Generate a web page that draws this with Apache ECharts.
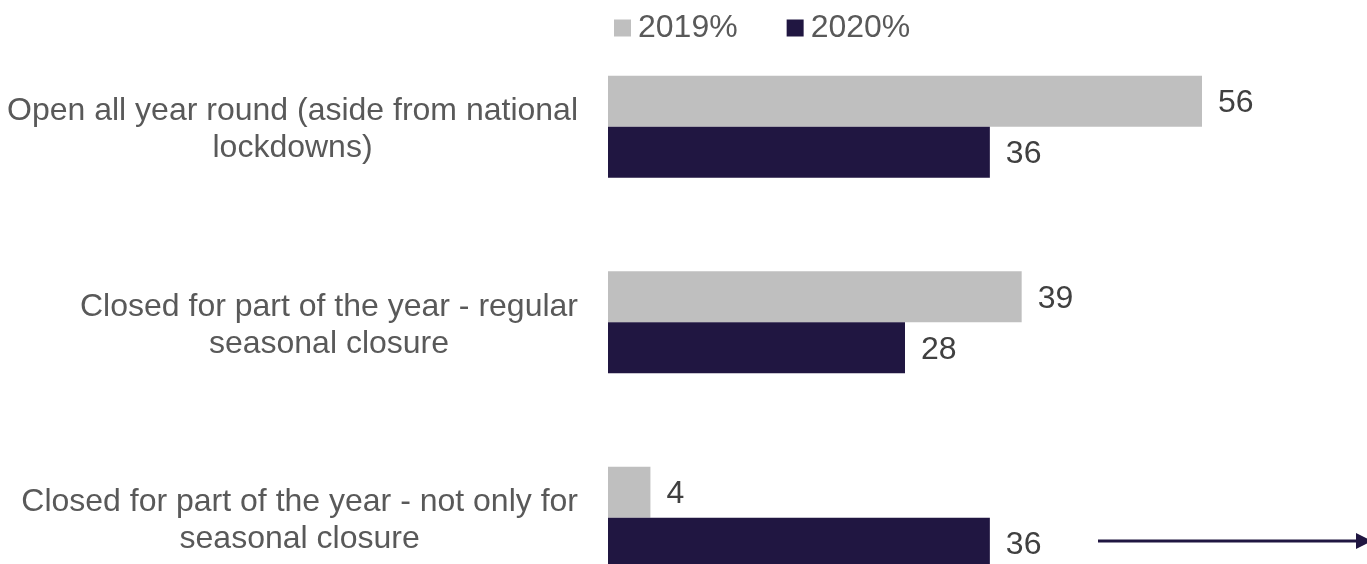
<!DOCTYPE html>
<html>
<head>
<meta charset="utf-8">
<script src="https://cdn.jsdelivr.net/npm/echarts@6/dist/echarts.min.js"></script>
<style>
  html, body { margin: 0; padding: 0; background: #ffffff; overflow: hidden; }
  #chart { width: 1367px; height: 616px; }
</style>
</head>
<body>
<div id="chart"></div>
<script>
const categories = [
  "Open all year round (aside from national\nlockdowns)",
  "Closed for part of the year - regular\nseasonal closure",
  "Closed for part of the year - not only for\nseasonal closure"
];
const seriesNames = ["2019%", "2020%"];
const values2019 = [56, 39, 4];
const values2020 = [36, 28, 36];

const FONT = '"Liberation Sans", Arial, sans-serif';
const chart = echarts.init(document.getElementById('chart'), null, { renderer: 'canvas' });

const labelStyle = {
  show: true,
  position: 'right',
  distance: 16,
  offset: [0, 2],
  fontSize: 32,
  fontFamily: FONT,
  color: '#404040'
};

chart.setOption({
  animation: false,
  backgroundColor: '#ffffff',
  textStyle: { fontFamily: FONT },
  legend: {
    data: seriesNames,
    left: 614,
    top: 12,
    padding: 0,
    icon: 'rect',
    itemWidth: 17,
    itemHeight: 17,
    itemGap: 49,
    textStyle: { fontSize: 32, fontFamily: FONT, color: '#595959', padding: [0, 0, 0, 2] }
  },
  grid: { left: 608, top: 29, width: 742.5, bottom: 0.5, containLabel: false },
  xAxis: {
    type: 'value',
    min: 0,
    max: 70,
    show: false
  },
  yAxis: {
    type: 'category',
    inverse: true,
    data: categories,
    axisLine: { show: false },
    axisTick: { show: false },
    splitLine: { show: false },
    axisLabel: {
      margin: 30,
      align: 'right',
      color: '#595959',
      fontSize: 32,
      fontFamily: FONT,
      lineHeight: 37,
      padding: [6, 0, 0, 0],
      formatter: function (v) {
        return v.split('\n').map(function (l) { return '{c|' + l + '}'; }).join('\n');
      },
      rich: {
        c: { align: 'center', fontSize: 32, lineHeight: 37, color: '#595959', fontFamily: FONT }
      }
    }
  },
  series: [
    {
      name: seriesNames[0],
      type: 'bar',
      data: values2019,
      barWidth: 51,
      barGap: '0%',
      itemStyle: { color: '#BFBFBF' },
      label: labelStyle
    },
    {
      name: seriesNames[1],
      type: 'bar',
      data: values2020,
      barWidth: 51,
      barGap: '0%',
      itemStyle: { color: '#201641' },
      label: labelStyle
    }
  ],
  graphic: [
    {
      type: 'line',
      shape: { x1: 1098, y1: 541, x2: 1358, y2: 541 },
      style: { stroke: '#201641', lineWidth: 3 }
    },
    {
      type: 'polygon',
      shape: { points: [[1356, 533], [1372, 541], [1356, 549]] },
      style: { fill: '#201641' }
    }
  ]
});
</script>
</body>
</html>
